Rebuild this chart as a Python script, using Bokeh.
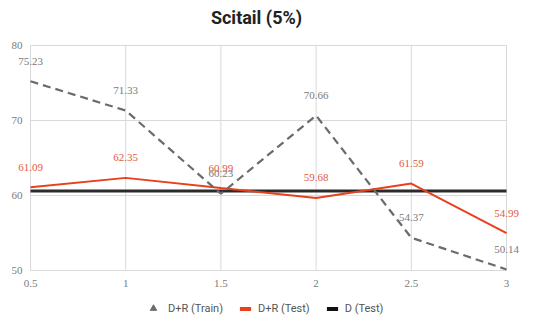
from bokeh.plotting import figure
from bokeh.models import (ColumnDataSource, LabelSet, Label, Legend, LegendItem)
from bokeh.embed import file_html
from bokeh.resources import INLINE

# Ratio of augmented data (x) and accuracy per setting
ratio = [0.5, 1, 1.5, 2, 2.5, 3]
dr_train = [75.23, 71.33, 60.23, 70.66, 54.37, 50.14]
dr_test = [61.09, 62.35, 60.99, 59.68, 61.59, 54.99]
d_test = [60.6, 60.6, 60.6, 60.6, 60.6, 60.6]

x_ticks = [0.5, 1, 1.5, 2, 2.5, 3]
x_tick_labels = ["0.5", "1", "1.5", "2", "2.5", "3"]
y_ticks = [50, 60, 70, 80]
y_tick_labels = ["50", "60", "70", "80"]

FONT = "Roboto"
TRAIN_C = "#6b6b6b"
TEST_C = "#e8401c"
TEST_LABEL_C = "#e25a3f"
D_C = "#2b2b2b"
TICK_C = "#7a7a7a"
GRID_C = "#d9d9d9"

W, H = 542, 322
# plot-area margins in pixels
ML, MR, MT, MB = 30, 36, 45, 52

x0, x1 = x_ticks[0], x_ticks[-1]
y0, y1 = y_ticks[0], y_ticks[-1]
sx = (W - ML - MR) / (x1 - x0)
sy = (H - MT - MB) / (y1 - y0)

src = ColumnDataSource(data=dict(
    x=ratio, train=dr_train, test=dr_test, d=d_test,
    train_lbl=[f"{v:.2f}" for v in dr_train],
    test_lbl=[f"{v:.2f}" for v in dr_test],
))

# The frame covers the whole canvas so that value labels near the edges are
# not clipped; axes and grid are drawn from the tick lists.
p = figure(width=W, height=H, output_backend="svg", toolbar_location=None,
           x_range=(x0 - ML / sx, x1 + MR / sx),
           y_range=(y0 - MB / sy, y1 + MT / sy),
           x_axis_type=None, y_axis_type=None,
           min_border=0, background_fill_color="white",
           border_fill_color="white", outline_line_color=None)

# Grid
p.segment(x0=x_ticks, y0=y0, x1=x_ticks, y1=y1, line_color=GRID_C, line_width=1)
p.segment(x0=x0, y0=y_ticks, x1=x1, y1=y_ticks, line_color=GRID_C, line_width=1)

# Tick labels
xt = ColumnDataSource(data=dict(x=x_ticks, t=x_tick_labels))
yt = ColumnDataSource(data=dict(y=y_ticks, t=y_tick_labels))
p.add_layout(LabelSet(x="x", y=y0, text="t", source=xt, y_offset=-13,
                      text_align="center", text_baseline="middle",
                      text_font=FONT, text_font_size="11px", text_color=TICK_C))
p.add_layout(LabelSet(x=x0, y="y", text="t", source=yt, x_offset=-8,
                      text_align="right", text_baseline="middle",
                      text_font=FONT, text_font_size="11px", text_color=TICK_C))

# Title
p.add_layout(Label(x=(x0 + x1) / 2, y=y1, x_offset=-12, y_offset=28,
                   text="Scitail (5%)", text_align="center",
                   text_baseline="middle", text_font=FONT,
                   text_font_size="18px", text_font_style="bold",
                   text_color="#222222"))

# Series
p.line("x", "d", source=src, line_color=D_C, line_width=3)
p.line("x", "test", source=src, line_color=TEST_C, line_width=2)
p.line("x", "train", source=src, line_color=TRAIN_C, line_width=2.2,
       line_dash="8 5")

# Value labels
p.add_layout(LabelSet(x="x", y="train", text="train_lbl", source=src,
                      y_offset=20, text_align="center", text_baseline="middle",
                      text_font=FONT, text_font_size="11px",
                      text_color="#7a7a7a"))
p.add_layout(LabelSet(x="x", y="test", text="test_lbl", source=src,
                      y_offset=20, text_align="center", text_baseline="middle",
                      text_font=FONT, text_font_size="11px",
                      text_color=TEST_LABEL_C))

# Legend-only glyphs: zero-size markers / zero-area quads draw nothing in the
# plot, but the legend renders them at its own glyph size.
leg_tri = p.scatter("x", "train", source=src, marker="triangle",
                    color=TRAIN_C, size=0)
leg_test = p.quad(left="x", right="x", top="test", bottom="test", source=src,
                  fill_color=TEST_C, line_color=None)
leg_d = p.quad(left="x", right="x", top="d", bottom="d", source=src,
               fill_color="#111111", line_color=None)

common = dict(orientation="horizontal", padding=0, margin=0,
              border_line_color=None, background_fill_alpha=0,
              label_text_font=FONT, label_text_font_size="11px",
              label_text_color="#555555")

legend_train = Legend(items=[LegendItem(label="D+R (Train)", renderers=[leg_tri])],
                      location=(145, 6), glyph_width=16, glyph_height=16,
                      label_standoff=7, **common)
legend_test = Legend(items=[LegendItem(label="D+R (Test)", renderers=[leg_test]),
                            LegendItem(label="D (Test)", renderers=[leg_d])],
                     location=(238, 7), glyph_width=14, glyph_height=5,
                     label_standoff=6, spacing=15, **common)
p.add_layout(legend_train)
p.add_layout(legend_test)

open("out.html", "w").write(file_html(p, INLINE))
